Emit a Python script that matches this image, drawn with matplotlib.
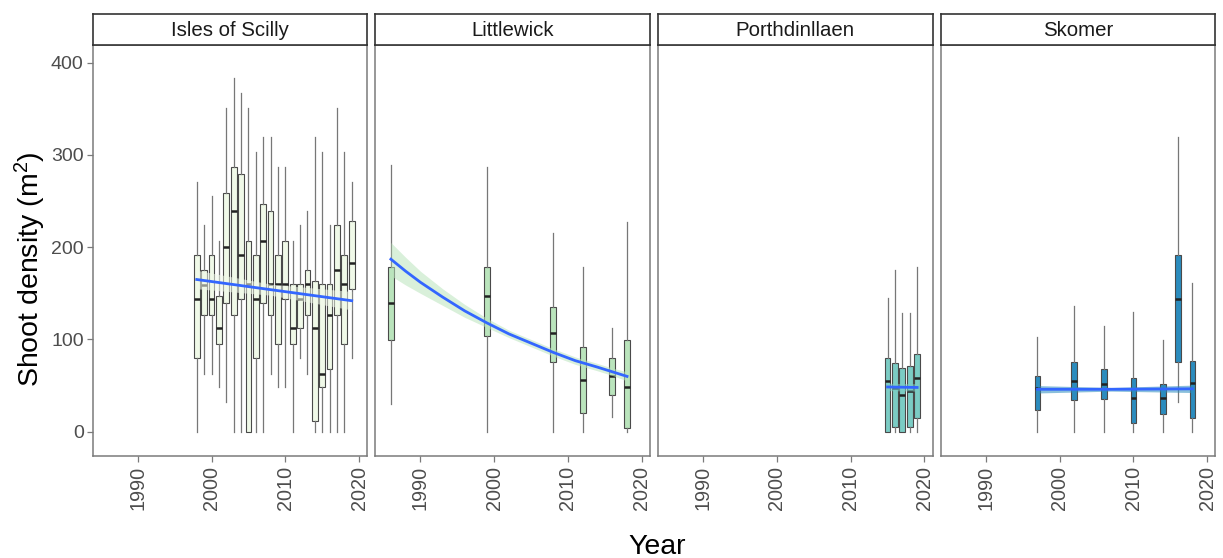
import matplotlib
matplotlib.use('Agg')
import matplotlib.pyplot as plt
import matplotlib.transforms as mtransforms
import numpy as np

plt.rcParams['font.family'] = ['Liberation Sans', 'DejaVu Sans']
plt.rcParams['mathtext.fontset'] = 'custom'
plt.rcParams['mathtext.rm'] = 'Liberation Sans'
plt.rcParams['mathtext.it'] = 'Liberation Sans:italic'

# site names, in facet order
sites = ['Isles of Scilly', 'Littlewick', 'Porthdinllaen', 'Skomer']
site_colours = ['#f0f9e8', '#bae4bc', '#7bccc4', '#2b8cbe']

# per-site box summaries: year, lower whisker, q1, median, q3, upper whisker
scilly_years = [1998, 1999, 2000, 2001, 2002, 2003, 2004, 2005, 2006, 2007, 2008,
                2009, 2010, 2011, 2012, 2013, 2014, 2015, 2016, 2017, 2018, 2019]
scilly_lo = [0, 63, 63, 48, 32, 0, 0, 0, 0, 0, 63, 48, 48, 0, 80, 63, 0, 0, 0, 0, 0, 80]
scilly_q1 = [80, 127, 127, 95, 140, 127, 144, 0, 80, 140, 127, 95, 144, 95, 112, 127, 12, 48, 68, 127, 95, 155]
scilly_med = [144, 159, 144, 112, 200, 239, 192, 160, 144, 207, 160, 160, 160, 112, 144, 160, 112, 63, 127, 175, 160, 183]
scilly_q3 = [192, 175, 192, 147, 259, 287, 279, 207, 192, 247, 239, 192, 207, 160, 160, 175, 163, 160, 160, 224, 192, 228]
scilly_hi = [271, 224, 255, 207, 351, 383, 367, 351, 303, 319, 319, 287, 287, 207, 224, 239, 319, 303, 224, 351, 303, 271]

little_years = [1986, 1999, 2008, 2012, 2016, 2018]
little_lo = [30, 0, 0, 0, 16, 0]
little_q1 = [99, 104, 76, 20, 40, 4]
little_med = [140, 147, 107, 56, 60, 48]
little_q3 = [179, 179, 135, 92, 80, 99]
little_hi = [289, 287, 215, 179, 112, 227]

porth_years = [2015, 2016, 2017, 2018, 2019]
porth_lo = [0, 0, 0, 0, 0]
porth_q1 = [0, 5, 0, 5, 15]
porth_med = [55, 47, 40, 44, 58]
porth_q3 = [80, 74, 69, 71, 84]
porth_hi = [145, 175, 129, 129, 179]

skomer_years = [1997, 2002, 2006, 2010, 2014, 2016, 2018]
skomer_lo = [0, 0, 0, 0, 0, 32, 0]
skomer_q1 = [24, 34, 35, 9, 19, 76, 15]
skomer_med = [47, 55, 52, 37, 37, 144, 53]
skomer_q3 = [60, 76, 68, 58, 52, 192, 77]
skomer_hi = [103, 136, 115, 130, 99, 319, 161]

# fitted trend per site: years, fitted value, half-width of the confidence band
scilly_fit_x = [1998, 2008, 2019]
scilly_fit_y = [165, 154, 142]
scilly_fit_se = [10, 6, 10]

little_fit_x = [1986, 1988, 1990, 1993, 1996, 1999, 2002, 2005, 2008, 2011, 2014, 2016, 2018]
little_fit_y = [187, 174, 162, 146, 131, 118, 106, 96, 86, 77, 70, 65, 60]
little_fit_se = [18, 15, 12, 9, 7, 5, 4, 4, 4, 4, 4, 4, 5]

porth_fit_x = [2015, 2019]
porth_fit_y = [48.5, 48]
porth_fit_se = [4, 4]

skomer_fit_x = [1997, 2007, 2018]
skomer_fit_y = [46, 46, 46.5]
skomer_fit_se = [4, 2, 4]

boxes = [
    (scilly_years, scilly_lo, scilly_q1, scilly_med, scilly_q3, scilly_hi),
    (little_years, little_lo, little_q1, little_med, little_q3, little_hi),
    (porth_years, porth_lo, porth_q1, porth_med, porth_q3, porth_hi),
    (skomer_years, skomer_lo, skomer_q1, skomer_med, skomer_q3, skomer_hi),
]
fits = [
    (scilly_fit_x, scilly_fit_y, scilly_fit_se),
    (little_fit_x, little_fit_y, little_fit_se),
    (porth_fit_x, porth_fit_y, porth_fit_se),
    (skomer_fit_x, skomer_fit_y, skomer_fit_se),
]

W, H = 1223, 558
fig = plt.figure(figsize=(W / 100, H / 100), dpi=100)

tick_col = '#4d4d4d'
panel_left, panel_w, panel_step = 92.7, 274.5, 282.7
panel_top, panel_bot, strip_top = 44.5, 456, 14.3
# rotated year labels sit a little to the right of their ticks
nudge = mtransforms.ScaledTranslation(4 / 100, 0, fig.dpi_scale_trans)

for i, site in enumerate(sites):
    x0 = panel_left + i * panel_step
    ax = fig.add_axes([x0 / W, 1 - panel_bot / H, panel_w / W, (panel_bot - panel_top) / H])
    yrs, lo, q1, med, q3, hi = boxes[i]
    stats = [dict(whislo=a, q1=b, med=c, q3=d, whishi=e, fliers=[])
             for a, b, c, d, e in zip(lo, q1, med, q3, hi)]
    ax.bxp(stats, positions=yrs, widths=0.78, patch_artist=True, showcaps=False,
           manage_ticks=False,
           boxprops=dict(facecolor=site_colours[i], edgecolor='#4a4a4a', linewidth=0.8),
           whiskerprops=dict(color='#777777', linewidth=0.9),
           medianprops=dict(color='#222222', linewidth=1.8))

    fx, fy, fse = fits[i]
    fx = np.array(fx, float)
    fy = np.array(fy, float)
    fse = np.array(fse, float)
    ax.fill_between(fx, fy - fse, fy + fse, color=site_colours[i], alpha=0.55,
                    linewidth=0, zorder=4)
    ax.plot(fx, fy, color='#3366ff', lw=2, zorder=5)

    ax.set_xlim(1983.9, 2021.1)
    ax.set_ylim(-26.3, 419.7)
    ax.set_xticks([1990, 2000, 2010, 2020])
    ax.set_xticklabels(['1990', '2000', '2010', '2020'], rotation=90, fontsize=14.3,
                       color=tick_col)
    for lab in ax.get_xticklabels():
        lab.set_transform(lab.get_transform() + nudge)
    for sp in ax.spines.values():
        sp.set_color('#7a7a7a')
        sp.set_linewidth(1.1)
    ax.tick_params(axis='x', length=4, width=0.9, color='#7a7a7a', pad=3)
    if i == 0:
        ax.set_yticks([0, 100, 200, 300, 400])
        ax.tick_params(axis='y', labelsize=14, labelcolor=tick_col, length=4,
                       width=0.9, color='#7a7a7a', pad=2.5)
    else:
        ax.set_yticks([])

    # facet strip
    sx = fig.add_axes([x0 / W, 1 - panel_top / H, panel_w / W, (panel_top - strip_top) / H])
    sx.set_xticks([])
    sx.set_yticks([])
    for sp in sx.spines.values():
        sp.set_color('#333333')
        sp.set_linewidth(1.2)
    sx.text(0.5, 0.47, site, ha='center', va='center', fontsize=14.7, color='#1a1a1a',
            transform=sx.transAxes)

fig.text(30 / W, 1 - 269 / H, r'Shoot density (m$^{2}$)', rotation=90, ha='center',
         va='center', fontsize=20.5)
fig.text(657 / W, 1 - 547 / H, 'Year', ha='center', va='center', fontsize=20.5)

fig.savefig('out.png', dpi=100)
